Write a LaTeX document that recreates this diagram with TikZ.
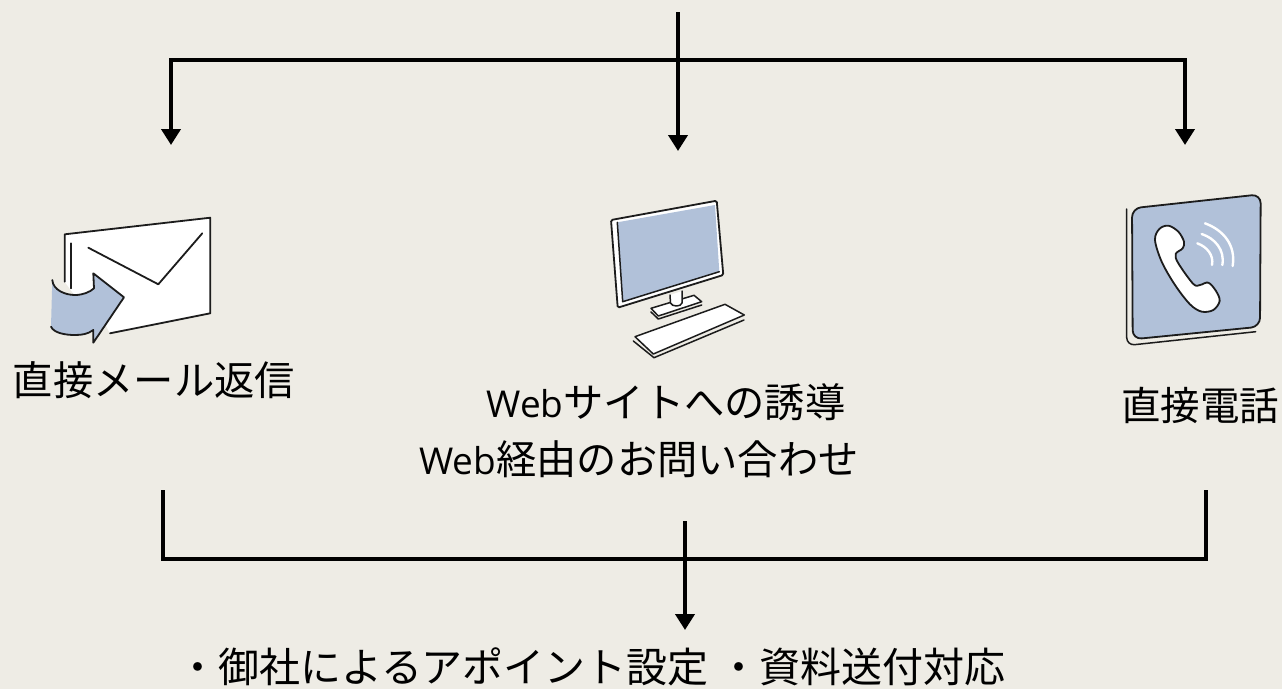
\documentclass[tikz,border=0pt]{standalone}
\usepackage{fontspec}
\setmainfont{Noto Sans CJK JP}
\newfontfamily\latinf{Open Sans}
\newcommand{\webword}{{\latinf\fontsize{37}{46}\selectfont Web}}
\usetikzlibrary{arrows.meta}
\definecolor{bgc}{HTML}{EEECE5}
\definecolor{bluec}{HTML}{B1C1D9}
\definecolor{inkc}{HTML}{1C1C1C}
\tikzset{
  conn/.style={draw=black,line width=4.8pt,line join=miter},
  arr/.style={conn,-{Triangle[width=19pt,length=16pt]}},
  lbl/.style={font=\fontsize{40.3}{46}\selectfont,inner sep=0pt,text=black,align=center},
  ink/.style={draw=inkc,line width=1.8pt,line join=round,line cap=round},
  thinink/.style={draw=inkc,line width=1.5pt,line join=round,line cap=round},
  wave/.style={draw=white,line width=2.4pt,line cap=round}
}
\begin{document}
\begin{tikzpicture}[x=1pt,y=-1pt]
\useasboundingbox[fill=bgc] (0,0) rectangle (1282,689);
% connectors top
\coordinate (tt) at (678,12);
\coordinate (tm) at (678,60);
\coordinate (tl) at (171,60);
\coordinate (tr) at (1185,60);
\coordinate (al) at (171,145);
\coordinate (ac) at (678,151);
\coordinate (ar) at (1185,145);
\draw[conn] (tt) -- (tm);
\draw[arr] (tm) -- (ac);
\draw[arr] (tm) -- (tl) -- (al);
\draw[arr] (tm) -- (tr) -- (ar);
% connectors bottom
\coordinate (bl) at (163,490);
\coordinate (bl2) at (163,559);
\coordinate (br) at (1206,490);
\coordinate (br2) at (1206,559);
\coordinate (bt) at (685,521);
\coordinate (bm) at (685,559);
\coordinate (be) at (685,630);
\draw[conn] (bl) -- (bl2) -- (br2) -- (br);
\draw[conn] (bt) -- (bm);
\draw[arr] (bm) -- (be);
% labels
\node[lbl] (mail) at (154,380) {直接メール返信};
\node[lbl] (weba) at (666,402) {\webword サイトへの誘導};
\node[lbl] (webb) at (639,459) {\webword 経由のお問い合わせ};
\node[lbl,font=\fontsize{39.5}{46}\selectfont] (tel) at (1200,405) {直接電話};
\node[lbl,anchor=west,font=\fontsize{41}{46}\selectfont] (act) at (177,667) {・御社によるアポイント設定 ・資料送付対応};
% envelope
\fill[white] (64.7,234.3) -- (210.3,217.7) -- (210.3,313.3) -- (110,333.3) -- (104,322) -- (75,296) -- (64.7,281.7) -- cycle;
\draw[ink] (64.7,281.7) -- (64.7,234.3) -- (210.3,217.7) -- (210.3,313.3) -- (110,333.3);
\draw[ink] (71.3,243.3) -- (71.3,288.3);
\draw[ink] (88.3,247.7) -- (158.3,284.3) -- (202.3,233.3);
\fill[bluec] (52.3,280) .. controls (53,290) and (65,295) .. (75,295) .. controls (83,295) and (90,292) .. (94,288.3) -- (93.3,273.3) -- (124,297.3) -- (93.3,342.7) -- (93.3,330) .. controls (88,334) and (82,335) .. (75,335) .. controls (65,335) and (54,333) .. (51,326.7) -- cycle;
\draw[ink] (52.3,280) .. controls (53,290) and (65,295) .. (75,295) .. controls (83,295) and (90,292) .. (94,288.3) -- (93.3,273.3) -- (124,297.3) -- (93.3,342.7) -- (93.3,330) .. controls (88,334) and (82,335) .. (75,335) .. controls (65,335) and (54,333) .. (51,326.7);
% monitor
\filldraw[ink,fill=white,rounded corners=1.5pt] (611,220) -- (716.7,200.7) -- (723.3,275) -- (617.7,307.7) -- cycle;
\fill[bluec] (617.3,222.3) -- (715,205) -- (719.3,271.7) -- (622.7,301.7) -- cycle;
\draw[thinink] (617.3,222.3) -- (622.7,301.7) -- (719.3,271.7);
\filldraw[thinink,fill=white] (651,308.3) -- (694,295.3) -- (701.7,301.7) -- (658.3,316) -- cycle;
\draw[thinink] (651,312) -- (658.3,319) -- (701.7,305);
\filldraw[thinink,fill=white] (670,295) -- (670.5,303) .. controls (672,307) and (681,307) .. (682,303) -- (682,291);
\filldraw[thinink,fill=white] (635,336.7) -- (725,304.3) -- (744.3,315) -- (653.3,354) -- cycle;
\draw[thinink] (633.3,341) -- (654,357.7) -- (744,320);
% phone
\draw[thinink,rounded corners=8pt] (1126.7,209) -- (1126.7,345.5) -- (1255.7,331.7);
\filldraw[ink,fill=bluec,rounded corners=9pt] (1132,208.3) -- (1260.7,194.3) -- (1260,326.7) -- (1132.7,339.3) -- cycle;
\begin{scope}[shift={(1110,185)},x=0.3333pt,y=-0.3333pt]
\filldraw[ink,fill=white] plot[smooth cycle,tension=0.55] coordinates {(175,122) (205,140) (222,170) (218,190) (197,207) (205,235) (250,297) (270,300) (295,293) (318,318) (329,348) (310,375) (275,380) (240,358) (195,300) (155,230) (135,165) (148,132)};
\draw[wave] (285,115) .. controls (340,135) and (378,180) .. (368,243);
\draw[wave] (275,147) .. controls (315,160) and (345,195) .. (337,240);
\draw[wave] (262,175) .. controls (290,185) and (312,210) .. (306,240);
\end{scope}
\end{tikzpicture}
\end{document}
